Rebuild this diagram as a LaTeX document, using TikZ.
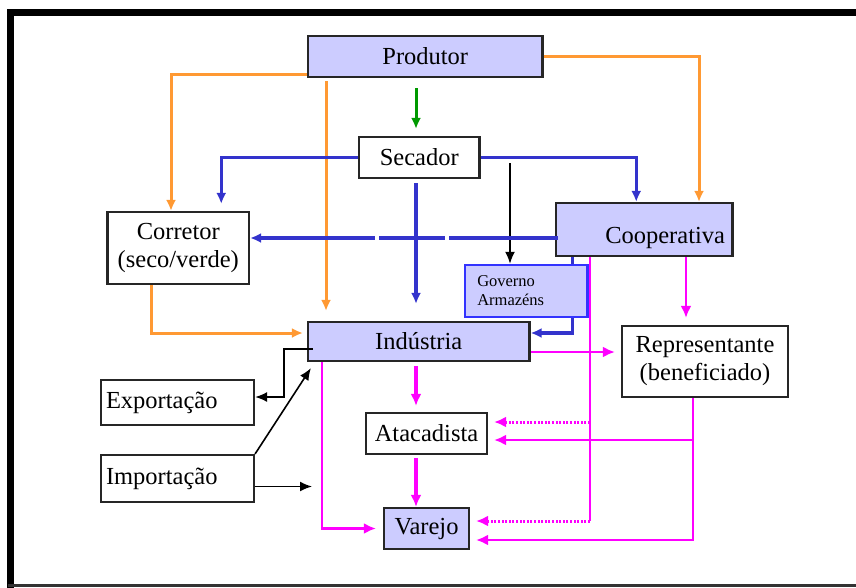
\documentclass[tikz,border=0pt]{standalone}
\usepackage{fontspec}
\setmainfont{Liberation Serif}
\usetikzlibrary{arrows.meta}

\definecolor{lav}{RGB}{204,204,255}
\definecolor{orcol}{RGB}{255,153,51}
\definecolor{blcol}{RGB}{51,51,204}
\definecolor{govcol}{RGB}{51,51,255}
\definecolor{mgcol}{RGB}{255,0,255}
\definecolor{grcol}{RGB}{0,153,0}

\tikzset{
	box/.style={shape=rectangle, draw=black!85, line width=2.2pt, fill=white,
		inner sep=0pt, font=\fontsize{24.5}{28}\selectfont},
	lbox/.style={box, fill=lav},
	orln/.style={draw=orcol, line width=3pt, -{Latex[length=11pt,width=10pt]}},
	blln/.style={draw=blcol, line width=3.2pt, -{Latex[length=11pt,width=10pt]}},
	kln/.style={draw=black, line width=1.6pt, -{Latex[length=12pt,width=10pt]}},
	grln/.style={draw=grcol, line width=3pt, -{Latex[length=11pt,width=10pt]}},
	mgln/.style={draw=mgcol, line width=2.4pt, -{Latex[length=12pt,width=11pt]}},
	mgthick/.style={mgln, line width=3.2pt},
	mgdot/.style={mgln, line width=3pt, dash pattern=on 2pt off 1.6pt}
}

\begin{document}
\begin{tikzpicture}[x=1pt, y=-1pt]
	
	\useasboundingbox (0,0) rectangle (856,587);
	\draw[line width=6.5pt] (10.5,590) -- (10.5,12.5) -- (860,12.5);
	\draw[line width=2.5pt, black!80] (8,585.5) -- (860,585.5);
	
	\node[lbox, minimum width=234.5pt, minimum height=41pt] (prod) at (425.25, 56.5)  {Produtor};
	\node[box,  minimum width=120.5pt, minimum height=41pt] (sec)  at (419.25, 157.5) {Secador};
	\node[box,  minimum width=141.5pt, minimum height=72pt, align=center] (corr) at (178.25, 248) {Corretor\\(seco/verde)};
	\node[lbox, minimum width=176.5pt, minimum height=53pt, text width=161.5pt, align=right,
		text height=33pt] (coop) at (644.25, 229.5) {Cooperativa};
	\node[lbox, draw=govcol, line width=2.4pt, minimum width=122.5pt, minimum height=52pt,
		text width=98pt, align=left, font=\fontsize{16.5}{19}\selectfont] (gov) at (526.25, 291) {Governo\\Armazéns};
	\node[lbox, minimum width=221.5pt, minimum height=39pt] (ind)  at (418.75, 341.5) {Indústria};
	\node[box,  minimum width=166pt,   minimum height=71pt, align=center] (rep) at (705, 361.5) {Representante\\(beneficiado)};
	\node[box,  minimum width=153pt,   minimum height=45pt, text width=143pt, align=left] (expo) at (177.5, 402.5) {Exportação};
	\node[box,  minimum width=121pt,   minimum height=41pt] (atac) at (426.5, 433.5) {Atacadista};
	\node[box,  minimum width=153pt,   minimum height=47pt, text width=143pt, align=left] (impo) at (177.5, 478.5) {Importação};
	\node[lbox, minimum width=85pt,    minimum height=41pt] (var)  at (426.5, 528.5) {Varejo};
	
	% columns and free ends
	\coordinate (mid)  at (416,0);
	\coordinate (ocol) at (326,0);
	\coordinate (gcol) at (572.5,0);
	\coordinate (mcol) at (322,0);
	\coordinate (rcol) at (686,0);
	\coordinate (kst)  at (510,163);
	\coordinate (kend) at (312,486.5);
	\coordinate (jA)   at (590,422);
	\coordinate (jB)   at (590,521);
	\coordinate (jC)   at (693,440);
	
	% produtor
	\draw[orln] ([yshift=3.5pt]prod.south west) -| ([xshift=-7.25pt]corr.north);
	\draw[orln, shorten <=3pt, shorten >=10pt] (prod.south -| ocol) -- (ind.north -| ocol);
	\draw[orln] (prod.east) -| ([xshift=54.75pt]coop.north);
	\draw[orln, shorten >=4pt] ([xshift=-27.25pt]corr.south) |- ([yshift=8.5pt]ind.west);
	\draw[grln, shorten <=10pt, shorten >=7pt] (prod.south -| mid) -- (sec.north -| mid);
	
	% secador
	\draw[blln, shorten >=7pt] (sec.west) -| ([xshift=43pt]corr.north);
	\draw[blln] (sec.east) -| ([xshift=-8pt]coop.north);
	\draw[blln, shorten <=4pt, shorten >=17pt] (sec.south -| mid) -- (ind.north -| mid);
	\draw[kln] (kst) -- (gov.north -| kst);
	
	% cooperativa
	\draw[blln] ([xshift=3pt,yshift=-8.5pt]coop.west) -- ([yshift=10pt]corr.east);
	\fill[white] (375,232) rectangle (379,244);
	\fill[white] (444.5,232) rectangle (448.5,244);
	\draw[blln, -] (coop.south -| gcol) -- (gov.north -| gcol);
	\draw[blln] (gov.south -| gcol) |- ([yshift=8.5pt]ind.east);
	\draw[mgln, shorten >=7pt] (coop.south -| rcol) -- (rep.north -| rcol);
	\draw[mgln, -] (coop.south -| jA) -- (jB);
	\draw[mgdot, shorten >=6pt] (jA) -- ([yshift=11.5pt]atac.east);
	\draw[mgdot, shorten >=6pt] (jB) -- ([yshift=7.5pt]var.east);
	
	% industria
	\draw[kln] ([xshift=6pt,yshift=-7.5pt]ind.west) -| ([xshift=29pt,yshift=5.5pt]expo.east) -- ([yshift=5.5pt]expo.east);
	\draw[kln] (impo.north east) -- ([xshift=4pt,yshift=-6pt]ind.south west);
	\draw[kln] ([yshift=-8pt]impo.east) -- (kend);
	\draw[mgthick, shorten <=4pt, shorten >=6pt] (ind.south -| mid) -- (atac.north -| mid);
	\draw[mgthick, shorten <=3pt] (atac.south -| mid) -- (var.north -| mid);
	\draw[mgln, shorten >=7pt] (ind.south -| mcol) |- (var.west);
	\draw[mgln, shorten >=6pt] ([yshift=-10.5pt]ind.east) -- ([yshift=9.5pt]rep.west);
	
	% representante
	\draw[mgln, shorten >=6pt] ([xshift=-12pt]rep.south) |- ([yshift=-11.5pt]var.east);
	\draw[mgln, shorten >=6pt] (jC) -- ([yshift=-6.5pt]atac.east);
	
\end{tikzpicture}
\end{document}
